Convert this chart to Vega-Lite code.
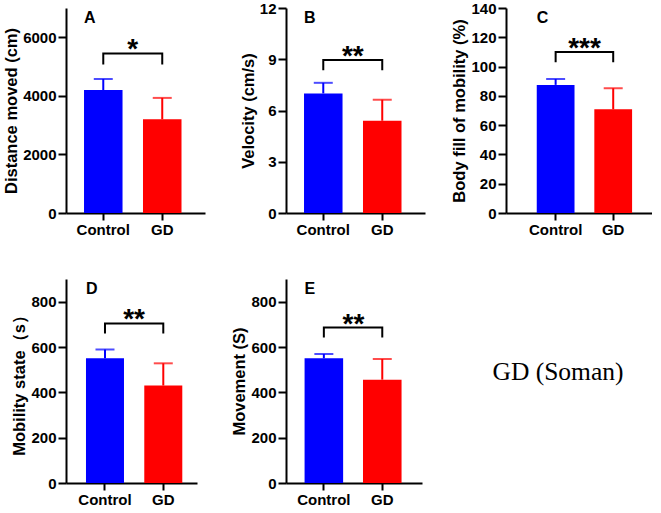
{
  "$schema": "https://vega.github.io/schema/vega-lite/v6.json",
  "padding": {"left": 3, "top": 1, "right": 0, "bottom": 0},
  "autosize": {"type": "pad"},
  "background": "white",
  "bounds": "full",
  "spacing": 42,
  "vconcat": [
    {
      "bounds": "flush",
      "spacing": 81,
      "hconcat": [
        {
          "width": 139, "height": 205,
          "layer": [
            {"data": {"name": "A_bars"}, "mark": {"type": "bar"},
             "encoding": {
               "x": {"field": "group", "type": "nominal", "title": null, "scale": {"paddingInner": 0.347, "paddingOuter": 0.352, "align": 0.434}},
               "y": {"field": "mean", "type": "quantitative", "title": "Distance moved (cm)", "scale": {"domain": [0, 7000], "nice": false}, "axis": {"values": [0, 2000, 4000, 6000], "tickCount": 20, "format": "d", "labelOverlap": false}},
               "color": {"field": "group", "type": "nominal", "scale": {"domain": ["Control", "GD"], "range": ["#0000ff", "#ff0000"]}, "legend": null}}},
            {"data": {"name": "A_bars"}, "mark": {"type": "rule", "strokeWidth": 2},
             "encoding": {"x": {"field": "group", "type": "nominal"}, "y": {"field": "mean", "type": "quantitative"}, "y2": {"field": "upper"}, "color": {"field": "group", "type": "nominal", "legend": null}}},
            {"data": {"name": "A_bars"}, "mark": {"type": "tick", "thickness": 2, "size": 19},
             "encoding": {"x": {"field": "group", "type": "nominal"}, "y": {"field": "upper", "type": "quantitative"}, "color": {"field": "group", "type": "nominal", "legend": null}}},
            {"data": {"name": "A_br"}, "mark": {"type": "line", "color": "black", "strokeWidth": 2},
             "encoding": {"x": {"field": "group", "type": "nominal"}, "y": {"field": "v", "type": "quantitative"}, "order": {"field": "k", "type": "quantitative"}}},
            {"data": {"name": "A_note"}, "mark": {"type": "text", "font": "Liberation Sans", "fontSize": 28, "fontWeight": "bold", "baseline": "alphabetic", "dy": 5, "color": "black"},
             "encoding": {"x": {"field": "group", "type": "nominal", "bandPosition": 1.266}, "y": {"field": "v", "type": "quantitative"}, "text": {"field": "label"}}},
            {"data": {"name": "A_letter"}, "mark": {"type": "text", "font": "Liberation Sans", "fontSize": 16, "fontWeight": "bold", "align": "left", "baseline": "top", "dy": 2, "color": "black"},
             "encoding": {"x": {"field": "group", "type": "nominal", "bandPosition": 0}, "y": {"field": "v", "type": "quantitative"}, "text": {"field": "label"}}}
          ]
        },
        {
          "width": 139, "height": 205,
          "layer": [
            {"data": {"name": "B_bars"}, "mark": {"type": "bar"},
             "encoding": {
               "x": {"field": "group", "type": "nominal", "title": null, "scale": {"paddingInner": 0.347, "paddingOuter": 0.352, "align": 0.434}},
               "y": {"field": "mean", "type": "quantitative", "title": "Velocity (cm/s)", "scale": {"domain": [0, 12], "nice": false}, "axis": {"values": [0, 3, 6, 9, 12], "tickCount": 20, "format": "d", "labelOverlap": false}},
               "color": {"field": "group", "type": "nominal", "scale": {"domain": ["Control", "GD"], "range": ["#0000ff", "#ff0000"]}, "legend": null}}},
            {"data": {"name": "B_bars"}, "mark": {"type": "rule", "strokeWidth": 2},
             "encoding": {"x": {"field": "group", "type": "nominal"}, "y": {"field": "mean", "type": "quantitative"}, "y2": {"field": "upper"}, "color": {"field": "group", "type": "nominal", "legend": null}}},
            {"data": {"name": "B_bars"}, "mark": {"type": "tick", "thickness": 2, "size": 19},
             "encoding": {"x": {"field": "group", "type": "nominal"}, "y": {"field": "upper", "type": "quantitative"}, "color": {"field": "group", "type": "nominal", "legend": null}}},
            {"data": {"name": "B_br"}, "mark": {"type": "line", "color": "black", "strokeWidth": 2},
             "encoding": {"x": {"field": "group", "type": "nominal"}, "y": {"field": "v", "type": "quantitative"}, "order": {"field": "k", "type": "quantitative"}}},
            {"data": {"name": "B_note"}, "mark": {"type": "text", "font": "Liberation Sans", "fontSize": 28, "fontWeight": "bold", "baseline": "alphabetic", "dy": 5, "color": "black"},
             "encoding": {"x": {"field": "group", "type": "nominal", "bandPosition": 1.266}, "y": {"field": "v", "type": "quantitative"}, "text": {"field": "label"}}},
            {"data": {"name": "B_letter"}, "mark": {"type": "text", "font": "Liberation Sans", "fontSize": 16, "fontWeight": "bold", "align": "left", "baseline": "top", "dy": 2, "color": "black"},
             "encoding": {"x": {"field": "group", "type": "nominal", "bandPosition": 0}, "y": {"field": "v", "type": "quantitative"}, "text": {"field": "label"}}}
          ]
        },
        {
          "width": 146, "height": 205,
          "layer": [
            {"data": {"name": "C_bars"}, "mark": {"type": "bar"},
             "encoding": {
               "x": {"field": "group", "type": "nominal", "title": null, "scale": {"paddingInner": 0.344, "paddingOuter": 0.44, "align": 0.607}},
               "y": {"field": "mean", "type": "quantitative", "title": "Body fill of mobility (%)", "scale": {"domain": [0, 140], "nice": false}, "axis": {"values": [0, 20, 40, 60, 80, 100, 120, 140], "tickCount": 20, "format": "d", "labelOverlap": false}},
               "color": {"field": "group", "type": "nominal", "scale": {"domain": ["Control", "GD"], "range": ["#0000ff", "#ff0000"]}, "legend": null}}},
            {"data": {"name": "C_bars"}, "mark": {"type": "rule", "strokeWidth": 2},
             "encoding": {"x": {"field": "group", "type": "nominal"}, "y": {"field": "mean", "type": "quantitative"}, "y2": {"field": "upper"}, "color": {"field": "group", "type": "nominal", "legend": null}}},
            {"data": {"name": "C_bars"}, "mark": {"type": "tick", "thickness": 2, "size": 19},
             "encoding": {"x": {"field": "group", "type": "nominal"}, "y": {"field": "upper", "type": "quantitative"}, "color": {"field": "group", "type": "nominal", "legend": null}}},
            {"data": {"name": "C_br"}, "mark": {"type": "line", "color": "black", "strokeWidth": 2},
             "encoding": {"x": {"field": "group", "type": "nominal"}, "y": {"field": "v", "type": "quantitative"}, "order": {"field": "k", "type": "quantitative"}}},
            {"data": {"name": "C_note"}, "mark": {"type": "text", "font": "Liberation Sans", "fontSize": 28, "fontWeight": "bold", "baseline": "alphabetic", "dy": 5, "color": "black"},
             "encoding": {"x": {"field": "group", "type": "nominal", "bandPosition": 1.266}, "y": {"field": "v", "type": "quantitative"}, "text": {"field": "label"}}},
            {"data": {"name": "C_letter"}, "mark": {"type": "text", "font": "Liberation Sans", "fontSize": 16, "fontWeight": "bold", "align": "left", "baseline": "top", "dy": 2, "color": "black"},
             "encoding": {"x": {"field": "group", "type": "nominal", "bandPosition": 0}, "y": {"field": "v", "type": "quantitative"}, "text": {"field": "label"}}}
          ]
        }
      ]
    },
    {
      "bounds": "flush",
      "spacing": 89,
      "hconcat": [
        {
          "width": 131, "height": 204,
          "layer": [
            {"data": {"name": "D_bars"}, "mark": {"type": "bar"},
             "encoding": {
               "x": {"field": "group", "type": "nominal", "title": null, "scale": {"paddingInner": 0.348, "paddingOuter": 0.2975, "align": 0.576}},
               "y": {"field": "mean", "type": "quantitative", "title": "Mobility state（s）", "scale": {"domain": [0, 900], "nice": false}, "axis": {"values": [0, 200, 400, 600, 800], "tickCount": 20, "format": "d", "labelOverlap": false}},
               "color": {"field": "group", "type": "nominal", "scale": {"domain": ["Control", "GD"], "range": ["#0000ff", "#ff0000"]}, "legend": null}}},
            {"data": {"name": "D_bars"}, "mark": {"type": "rule", "strokeWidth": 2},
             "encoding": {"x": {"field": "group", "type": "nominal"}, "y": {"field": "mean", "type": "quantitative"}, "y2": {"field": "upper"}, "color": {"field": "group", "type": "nominal", "legend": null}}},
            {"data": {"name": "D_bars"}, "mark": {"type": "tick", "thickness": 2, "size": 19},
             "encoding": {"x": {"field": "group", "type": "nominal"}, "y": {"field": "upper", "type": "quantitative"}, "color": {"field": "group", "type": "nominal", "legend": null}}},
            {"data": {"name": "D_br"}, "mark": {"type": "line", "color": "black", "strokeWidth": 2},
             "encoding": {"x": {"field": "group", "type": "nominal"}, "y": {"field": "v", "type": "quantitative"}, "order": {"field": "k", "type": "quantitative"}}},
            {"data": {"name": "D_note"}, "mark": {"type": "text", "font": "Liberation Sans", "fontSize": 28, "fontWeight": "bold", "baseline": "alphabetic", "dy": 5, "color": "black"},
             "encoding": {"x": {"field": "group", "type": "nominal", "bandPosition": 1.266}, "y": {"field": "v", "type": "quantitative"}, "text": {"field": "label"}}},
            {"data": {"name": "D_letter"}, "mark": {"type": "text", "font": "Liberation Sans", "fontSize": 16, "fontWeight": "bold", "align": "left", "baseline": "top", "dy": 2, "color": "black"},
             "encoding": {"x": {"field": "group", "type": "nominal", "bandPosition": 0}, "y": {"field": "v", "type": "quantitative"}, "text": {"field": "label"}}}
          ]
        },
        {
          "width": 136, "height": 204,
          "layer": [
            {"data": {"name": "E_bars"}, "mark": {"type": "bar"},
             "encoding": {
               "x": {"field": "group", "type": "nominal", "title": null, "scale": {"paddingInner": 0.34, "paddingOuter": 0.334, "align": 0.476}},
               "y": {"field": "mean", "type": "quantitative", "title": "Movement (S)", "scale": {"domain": [0, 900], "nice": false}, "axis": {"values": [0, 200, 400, 600, 800], "tickCount": 20, "format": "d", "labelOverlap": false}},
               "color": {"field": "group", "type": "nominal", "scale": {"domain": ["Control", "GD"], "range": ["#0000ff", "#ff0000"]}, "legend": null}}},
            {"data": {"name": "E_bars"}, "mark": {"type": "rule", "strokeWidth": 2},
             "encoding": {"x": {"field": "group", "type": "nominal"}, "y": {"field": "mean", "type": "quantitative"}, "y2": {"field": "upper"}, "color": {"field": "group", "type": "nominal", "legend": null}}},
            {"data": {"name": "E_bars"}, "mark": {"type": "tick", "thickness": 2, "size": 19},
             "encoding": {"x": {"field": "group", "type": "nominal"}, "y": {"field": "upper", "type": "quantitative"}, "color": {"field": "group", "type": "nominal", "legend": null}}},
            {"data": {"name": "E_br"}, "mark": {"type": "line", "color": "black", "strokeWidth": 2},
             "encoding": {"x": {"field": "group", "type": "nominal"}, "y": {"field": "v", "type": "quantitative"}, "order": {"field": "k", "type": "quantitative"}}},
            {"data": {"name": "E_note"}, "mark": {"type": "text", "font": "Liberation Sans", "fontSize": 28, "fontWeight": "bold", "baseline": "alphabetic", "dy": 5, "color": "black"},
             "encoding": {"x": {"field": "group", "type": "nominal", "bandPosition": 1.266}, "y": {"field": "v", "type": "quantitative"}, "text": {"field": "label"}}},
            {"data": {"name": "E_letter"}, "mark": {"type": "text", "font": "Liberation Sans", "fontSize": 16, "fontWeight": "bold", "align": "left", "baseline": "top", "dy": 2, "color": "black"},
             "encoding": {"x": {"field": "group", "type": "nominal", "bandPosition": 0}, "y": {"field": "v", "type": "quantitative"}, "text": {"field": "label"}}}
          ]
        },
        {
          "width": 94, "height": 186,
          "data": {"name": "T"},
          "mark": {"type": "text", "font": "Liberation Serif", "fontSize": 25.5, "baseline": "middle", "align": "center", "color": "black"},
          "encoding": {"text": {"field": "label"}}
        }
      ]
    }
  ],
  "datasets": {
    "A_bars": [{"group": "Control", "mean": 4200, "upper": 4575}, {"group": "GD", "mean": 3200, "upper": 3930}],
    "A_br": [{"group": "Control", "v": 5070, "k": 0}, {"group": "Control", "v": 5450, "k": 1}, {"group": "GD", "v": 5450, "k": 2}, {"group": "GD", "v": 5070, "k": 3}],
    "A_note": [{"group": "Control", "v": 5450, "label": "*"}],
    "A_letter": [{"group": "Control", "v": 7000, "label": "A"}],
    "B_bars": [{"group": "Control", "mean": 7.0, "upper": 7.62}, {"group": "GD", "mean": 5.4, "upper": 6.63}],
    "B_br": [{"group": "Control", "v": 8.35, "k": 0}, {"group": "Control", "v": 8.95, "k": 1}, {"group": "GD", "v": 8.95, "k": 2}, {"group": "GD", "v": 8.35, "k": 3}],
    "B_note": [{"group": "Control", "v": 8.95, "label": "**"}],
    "B_letter": [{"group": "Control", "v": 12, "label": "B"}],
    "C_bars": [{"group": "Control", "mean": 87.5, "upper": 91.5}, {"group": "GD", "mean": 70.8, "upper": 85.2}],
    "C_br": [{"group": "Control", "v": 103, "k": 0}, {"group": "Control", "v": 110, "k": 1}, {"group": "GD", "v": 110, "k": 2}, {"group": "GD", "v": 103, "k": 3}],
    "C_note": [{"group": "Control", "v": 110, "label": "***"}],
    "C_letter": [{"group": "Control", "v": 140, "label": "C"}],
    "D_bars": [{"group": "Control", "mean": 550, "upper": 589}, {"group": "GD", "mean": 430, "upper": 528}],
    "D_br": [{"group": "Control", "v": 660, "k": 0}, {"group": "Control", "v": 704, "k": 1}, {"group": "GD", "v": 704, "k": 2}, {"group": "GD", "v": 660, "k": 3}],
    "D_note": [{"group": "Control", "v": 704, "label": "**"}],
    "D_letter": [{"group": "Control", "v": 900, "label": "D"}],
    "E_bars": [{"group": "Control", "mean": 550, "upper": 569}, {"group": "GD", "mean": 456, "upper": 547}],
    "E_br": [{"group": "Control", "v": 642, "k": 0}, {"group": "Control", "v": 686, "k": 1}, {"group": "GD", "v": 686, "k": 2}, {"group": "GD", "v": 642, "k": 3}],
    "E_note": [{"group": "Control", "v": 686, "label": "**"}],
    "E_letter": [{"group": "Control", "v": 900, "label": "E"}],
    "T": [{"label": "GD (Soman)"}]
  },
  "config": {
    "view": {"stroke": null},
    "axis": {
      "grid": false,
      "domainColor": "black", "domainWidth": 2,
      "tickColor": "black", "tickWidth": 2, "tickSize": 8,
      "labelFont": "Liberation Sans", "labelFontWeight": "bold", "labelColor": "black", "labelPadding": 2, "labelFlush": false, "labelOverlap": false,
      "titleFont": "Liberation Sans", "titleFontWeight": "bold", "titleFontSize": 16.5, "titleColor": "black", "titlePadding": 3
    },
    "axisX": {"labelAngle": 0, "labelFontSize": 15, "tickSize": 7},
    "axisY": {"labelFontSize": 15}
  }
}
